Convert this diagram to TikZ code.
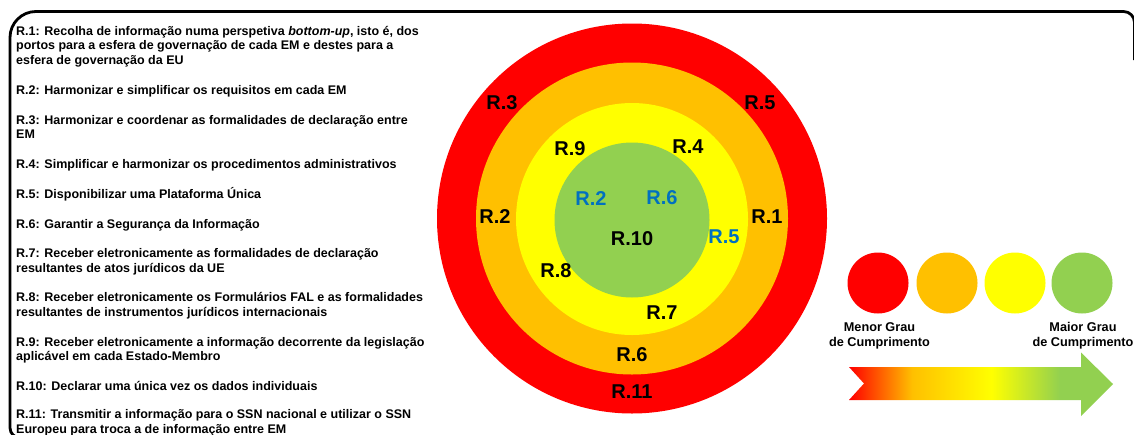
\documentclass[tikz,border=0pt]{standalone}
\usepackage{fontspec}
\setmainfont{Liberation Sans}
\definecolor{cRed}{HTML}{FF0000}
\definecolor{cOrange}{HTML}{FFC000}
\definecolor{cYellow}{HTML}{FFFF00}
\definecolor{cGreen}{HTML}{92D050}
\definecolor{cBlue}{HTML}{0070C0}
\pgfdeclarehorizontalshading{cumprimento}{100bp}{%
  color(0bp)=(cRed); color(25bp)=(cRed); color(37bp)=(cOrange);
  color(52bp)=(cYellow); color(65bp)=(cGreen); color(100bp)=(cGreen)}
\begin{document}
\begin{tikzpicture}[x=1pt,y=-1pt,
  ring/.style={circle, inner sep=0pt, outer sep=0pt, draw=none, minimum size=#1},
  lbl/.style={font=\fontsize{20}{24}\selectfont\bfseries, inner sep=0pt},
  blbl/.style={lbl, text=cBlue},
  % multi-line items are placed by the baseline of their last line
  item/.style={anchor=base west, inner sep=0pt, align=left,
    font=\fontsize{12.5}{14.8}\selectfont\bfseries},
  dot/.style={circle, inner sep=0pt, minimum size=61pt},
  caption/.style={anchor=base, inner sep=0pt, align=center,
    font=\fontsize{12.7}{15}\selectfont\bfseries}]
\useasboundingbox (0,0) rectangle (1134,434);
\fill[white] (0,0) rectangle (1134,434);

% outer frame
\draw[line width=2.8pt] (60,437.8) [rounded corners=10pt] -- (10,437.8)
  [rounded corners=26pt] -- (10,11.5) [rounded corners=11pt] -- (1134.5,11.5) -- (1134.5,60);

% list of requirements
\node[item] (t1) at (16,64.6) {R.1: Recolha de informação numa perspetiva \textit{bottom-up}, isto é, dos\\portos para a esfera de governação de cada EM e destes para a\\esfera de governação da EU};
\node[item] (t2) at (16,94) {R.2: Harmonizar e simplificar os requisitos em cada EM};
\node[item] (t3) at (16,138.8) {R.3: Harmonizar e coordenar as formalidades de declaração entre\\EM};
\node[item] (t4) at (16,168.3) {R.4: Simplificar e harmonizar os procedimentos administrativos};
\node[item] (t5) at (16,198) {R.5: Disponibilizar uma Plataforma Única};
\node[item] (t6) at (16,228.3) {R.6: Garantir a Segurança da Informação};
\node[item] (t7) at (16,272.3) {R.7: Receber eletronicamente as formalidades de declaração\\resultantes de atos jurídicos da UE};
\node[item] (t8) at (16,316.1) {R.8: Receber eletronicamente os Formulários FAL e as formalidades\\resultantes de instrumentos jurídicos internacionais};
\node[item] (t9) at (16,360.8) {R.9: Receber eletronicamente a informação decorrente da legislação\\aplicável em cada Estado-Membro};
\node[item] (t10) at (16,390.7) {R.10: Declarar uma única vez os dados individuais};
\node[item] (t11) at (16,433.6) {R.11: Transmitir a informação para o SSN nacional e utilizar o SSN\\Europeu para troca a de informação entre EM};

% concentric rings
\node[ring=390pt, fill=cRed] (rRed) at (632,218.5) {};
\node[ring=312pt, fill=cOrange] (rOrange) at (632,218.5) {};
\node[ring=232pt, fill=cYellow] (rYellow) at (632,219) {};
\node[ring=155pt, fill=cGreen] (rGreen) at (632,220) {};

% ring labels
\node[lbl] (l3) at (502,103) {R.3};
\node[lbl] (l5a) at (760,103) {R.5};
\node[lbl] (l9) at (570,149) {R.9};
\node[lbl] (l4) at (688,147) {R.4};
\node[blbl] (b2) at (591,199) {R.2};
\node[blbl] (b6) at (662,198) {R.6};
\node[lbl] (l2) at (495,217) {R.2};
\node[lbl] (l1) at (767,217) {R.1};
\node[lbl] (l10) at (632,239) {R.10};
\node[blbl] (b5) at (724,237) {R.5};
\node[lbl] (l8) at (556,271) {R.8};
\node[lbl] (l7) at (662,313) {R.7};
\node[lbl] (l6) at (632,355) {R.6};
\node[lbl] (l11) at (632,392) {R.11};

% legend
\node[dot, fill=cRed] (dRed) at (878,283) {};
\node[dot, fill=cOrange] (dOrange) at (947,283) {};
\node[dot, fill=cYellow] (dYellow) at (1015,283) {};
\node[dot, fill=cGreen] (dGreen) at (1082,283) {};
\node[caption] (cMin) at (879.5,346.7) {Menor Grau\\de Cumprimento};
\node[caption] (cMax) at (1083,346.7) {Maior Grau\\de Cumprimento};

% gradient arrow
\shade[shading=cumprimento] (849,367) -- (1081,367) -- (1081,352.5) -- (1113,384)
  -- (1081,416) -- (1081,400) -- (849,400) -- (864,383.5) -- cycle;
\end{tikzpicture}
\end{document}
